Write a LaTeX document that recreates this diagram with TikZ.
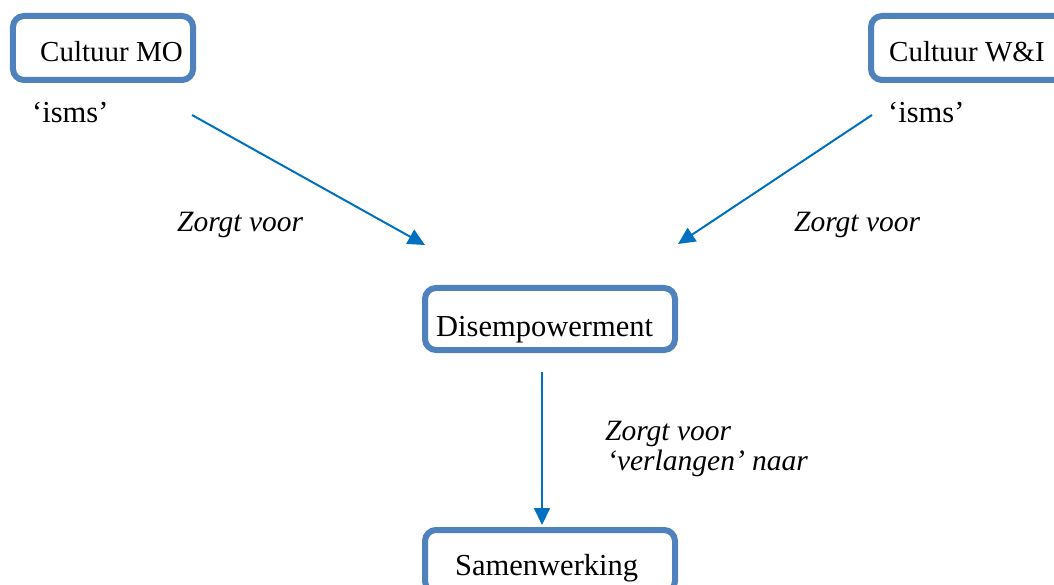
\documentclass[tikz,border=0pt]{standalone}
\usepackage{fontspec}
\setmainfont{Liberation Serif}
\usetikzlibrary{arrows.meta}
\definecolor{boxblue}{RGB}{79,129,189}
\definecolor{arrblue}{RGB}{0,112,192}
\begin{document}
\begin{tikzpicture}[x=1bp,y=-1bp,
  box/.style={draw=boxblue, line width=6bp, rounded corners=11bp, inner sep=0pt, fill=white},
  lbl/.style={inner sep=0pt, anchor=base west, font=\fontsize{30.5bp}{34bp}\selectfont},
  clbl/.style={inner sep=0pt, anchor=base west, font=\fontsize{29bp}{34bp}\selectfont},
  ilbl/.style={inner sep=0pt, anchor=base west, font=\fontsize{29.5bp}{34bp}\selectfont\itshape},
  arr/.style={draw=arrblue, line width=2bp, -{Triangle[length=17bp,width=16bp]}}]
\useasboundingbox (0,0) rectangle (1054,585);
\node[box, minimum width=180bp, minimum height=64bp] (mo) at (103,48) {};
\node[box, minimum width=200bp, minimum height=64bp] (wi) at (971,48) {};
\node[box, minimum width=250bp, minimum height=62bp] (dis) at (550,319) {};
\node[box, minimum width=250bp, minimum height=62bp] (sam) at (550,561) {};
\node[clbl] (mot) at (40,62) {Cultuur MO};
\node[clbl] (wit) at (889,62) {Cultuur W\&I};
\node[lbl] (dist) at (436,336) {Disempowerment};
\node[lbl] (samt) at (455,575) {Samenwerking};
\node[lbl] (ismsl) at (32,123) {‘isms’};
\node[lbl] (ismsr) at (888,123) {‘isms’};
\node[ilbl] (zl) at (177,232) {Zorgt voor};
\node[ilbl] (zr) at (794,232) {Zorgt voor};
\node[ilbl] (zd1) at (605,440) {Zorgt voor};
\node[ilbl] (zd2) at (607,470) {‘verlangen’ naar};
\coordinate (a1s) at (192,115);
\coordinate (a1e) at (425,245);
\coordinate (a2s) at (872,115);
\coordinate (a2e) at (678,244);
\coordinate (a3s) at (542,372);
\coordinate (a3e) at (542,525);
\draw[arr] (a1s) -- (a1e);
\draw[arr] (a2s) -- (a2e);
\draw[arr] (a3s) -- (a3e);
\end{tikzpicture}
\end{document}
